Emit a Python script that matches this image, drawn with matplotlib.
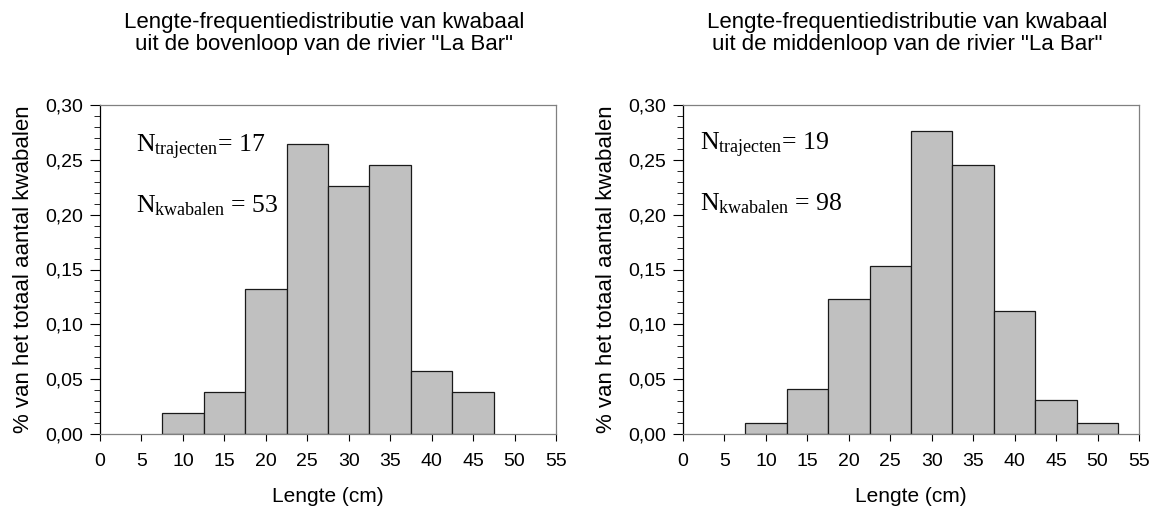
import numpy as np
import matplotlib
matplotlib.use("Agg")
from matplotlib import pyplot as plt
from matplotlib.ticker import MultipleLocator, FuncFormatter

plt.rcParams['font.family'] = ['Liberation Sans', 'DejaVu Sans']
plt.rcParams['mathtext.fontset'] = 'custom'
plt.rcParams['mathtext.rm'] = 'Liberation Serif'

# Bin centres (cm) and fraction of fish per bin
bins_boven = [10, 15, 20, 25, 30, 35, 40, 45]
frac_boven = [0.019, 0.038, 0.132, 0.264, 0.226, 0.245, 0.057, 0.038]

bins_midden = [10, 15, 20, 25, 30, 35, 40, 45, 50]
frac_midden = [0.010, 0.041, 0.123, 0.153, 0.276, 0.245, 0.112, 0.031, 0.010]

titles = [('Lengte-frequentiedistributie van kwabaal',
           'uit de bovenloop van de rivier "La Bar"'),
          ('Lengte-frequentiedistributie van kwabaal',
           'uit de middenloop van de rivier "La Bar"')]
n_trajecten = [17, 19]
n_kwabalen = [53, 98]

fig = plt.figure(figsize=(11.54, 5.11), dpi=100)
W, H = 1154, 511

# axes boxes in pixels: left, right, top, bottom
boxes = [(100, 556, 105, 434), (683, 1139, 105, 434)]
text_x = [0.079, 0.037]
text_y1 = [0.857, 0.863]
text_y2 = [0.675, 0.681]
title_x = [324, 907]

data = [(bins_boven, frac_boven), (bins_midden, frac_midden)]
fmt = FuncFormatter(lambda v, p: f"{v:.2f}".replace('.', ','))

for i in range(2):
    l, r, t, b = boxes[i]
    ax = fig.add_axes([l / W, 1 - b / H, (r - l) / W, (b - t) / H])
    xs, ys = data[i]
    ax.bar(xs, ys, width=5, color='#c0c0c0', edgecolor='#1a1a1a', linewidth=0.9)
    ax.set_xlim(0, 55)
    ax.set_ylim(0, 0.30)
    ax.xaxis.set_major_locator(MultipleLocator(5))
    ax.yaxis.set_major_locator(MultipleLocator(0.05))
    ax.yaxis.set_minor_locator(MultipleLocator(0.01))
    ax.yaxis.set_major_formatter(fmt)
    ax.tick_params(axis='y', which='major', direction='out', length=7,
                   labelsize=14, width=0.8, pad=5)
    ax.tick_params(axis='x', which='major', direction='out', length=5,
                   labelsize=14, width=0.8, pad=9)
    ax.tick_params(axis='y', which='minor', direction='out', length=4, width=0.6)
    ax.spines['top'].set_color('#808080')
    ax.spines['right'].set_color('#808080')
    ax.spines['bottom'].set_color('#808080')
    for s in ax.spines.values():
        s.set_linewidth(0.9)
    ax.set_xlabel('Lengte (cm)', fontsize=15, labelpad=12)
    ax.set_ylabel('% van het totaal aantal kwabalen', fontsize=16, labelpad=8)

    ax.text(text_x[i], text_y1[i], r'$\mathrm{N_{trajecten}}$' + f'= {n_trajecten[i]}',
            transform=ax.transAxes, fontsize=18.5, family='Liberation Serif',
            va='baseline')
    ax.text(text_x[i], text_y2[i], r'$\mathrm{N_{kwabalen}}$' + f' = {n_kwabalen[i]}',
            transform=ax.transAxes, fontsize=18.5, family='Liberation Serif',
            va='baseline')

    fig.text(title_x[i] / W, 1 - 28 / H, titles[i][0], ha='center', va='baseline',
             fontsize=16)
    fig.text(title_x[i] / W, 1 - 50 / H, titles[i][1], ha='center', va='baseline',
             fontsize=16)

fig.savefig('out.png', dpi=100)
